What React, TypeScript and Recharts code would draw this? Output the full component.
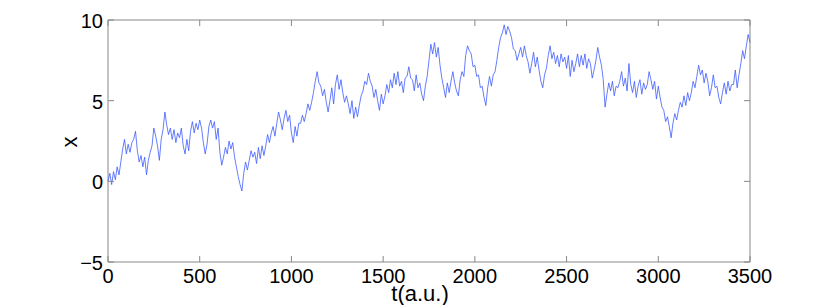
import React from "react";
import {
  LineChart,
  Line,
  XAxis,
  YAxis,
  ReferenceArea,
} from "recharts";

const T_STEP = 10;
const X_VALUES = [
  0.0, 0.5, -0.2, 0.6, 0.1, 0.9, 0.4, 1.2, 2.0, 2.6, 1.7, 2.3, 1.8, 2.4, 2.6, 3.1,
  1.9, 1.2, 1.6, 0.9, 1.5, 0.4, 1.3, 1.8, 2.2, 3.3, 2.8, 2.2, 1.3, 2.6, 3.2, 4.3,
  3.5, 2.9, 3.3, 2.6, 3.2, 2.4, 3.0, 2.7, 3.3, 2.2, 1.7, 2.6, 1.9, 3.1, 3.7, 3.0,
  3.6, 3.2, 3.8, 3.3, 2.4, 1.7, 2.3, 3.4, 3.8, 3.3, 3.7, 2.6, 3.3, 1.8, 1.0, 1.5,
  2.1, 1.7, 2.5, 2.0, 2.4, 1.5, 0.9, 0.3, -0.2, -0.6, 0.5, 1.2, 0.7, 1.3, 1.9, 1.5,
  1.8, 1.1, 2.1, 1.4, 2.2, 1.6, 2.2, 2.9, 2.4, 3.0, 3.4, 2.8, 3.6, 4.3, 3.8, 3.2,
  3.9, 4.4, 3.7, 4.1, 3.0, 2.4, 3.4, 2.8, 3.6, 3.6, 4.1, 3.7, 4.2, 4.8, 4.4, 4.9,
  5.5, 6.2, 6.8, 6.1, 5.9, 5.3, 5.7, 4.9, 4.3, 5.0, 5.8, 4.8, 6.0, 6.6, 5.7, 6.3,
  5.5, 4.9, 5.3, 4.8, 4.2, 5.0, 3.9, 4.6, 4.0, 4.7, 5.3, 5.6, 6.2, 6.0, 6.7, 6.2,
  5.9, 5.2, 5.7, 5.0, 4.4, 5.4, 4.8, 5.3, 6.0, 5.5, 6.3, 5.8, 6.7, 6.0, 6.8, 5.9,
  6.2, 5.5, 6.4, 6.5, 7.1, 6.4, 6.3, 5.6, 6.6, 5.8, 6.1, 5.4, 5.0, 5.9, 6.5, 7.5,
  8.5, 7.9, 8.6, 7.7, 8.3, 7.2, 6.4, 5.8, 5.2, 6.1, 5.5, 6.2, 6.8, 6.1, 5.6, 5.3,
  6.3, 6.8, 6.5, 7.8, 8.4, 8.1, 7.9, 7.1, 7.2, 6.5, 6.6, 5.8, 5.9, 5.2, 4.7, 5.8,
  6.5, 5.9, 6.6, 6.8, 7.5, 8.3, 8.9, 9.2, 9.7, 9.1, 9.6, 9.3, 8.9, 8.2, 8.1, 7.5,
  7.9, 8.3, 7.7, 8.4, 7.8, 7.4, 6.7, 7.3, 8.0, 7.1, 7.7, 6.9, 6.2, 5.8, 6.6, 7.0,
  7.8, 8.4, 7.6, 8.0, 7.3, 7.8, 7.1, 7.9, 7.4, 7.7, 7.0, 7.8, 6.5, 7.5, 6.8, 7.3,
  7.9, 7.1, 7.8, 7.2, 7.9, 7.0, 7.6, 7.3, 6.4, 6.9, 7.5, 8.3, 7.7, 7.2, 6.3, 4.6,
  5.4, 6.1, 5.6, 6.2, 5.3, 5.9, 5.8, 6.2, 6.8, 5.9, 6.4, 5.6, 7.3, 6.0, 5.5, 6.2,
  5.2, 5.9, 6.3, 5.4, 6.1, 5.7, 6.0, 6.8, 6.3, 5.7, 6.2, 5.1, 5.9, 5.2, 4.6, 4.4,
  3.7, 4.0, 3.4, 2.7, 3.6, 4.2, 3.8, 4.4, 4.9, 4.6, 5.3, 4.7, 5.5, 5.0, 5.5, 6.2,
  5.8, 6.5, 7.2, 6.6, 6.9, 6.1, 6.7, 6.2, 5.3, 5.8, 6.6, 5.8, 5.9, 5.2, 4.8, 5.5,
  6.1, 5.4, 6.2, 5.6, 6.0, 6.0, 6.9, 5.8, 6.6, 7.3, 8.1, 7.6, 8.4, 9.1, 8.6,
];

const X_TICKS = [0, 500, 1000, 1500, 2000, 2500, 3000, 3500];
const Y_TICKS = [-5, 0, 5, 10];

const data = X_VALUES.map((x, i) => ({ t: i * T_STEP, x }));

const PLOT_TOP = 20;
const PLOT_BOTTOM = 262;
const PLOT_LEFT = 108;
const PLOT_RIGHT = 750;
const TICK_LEN = 6;
const AXIS_COLOR = "#888888";
const FONT = "'Liberation Sans', Arial, Helvetica, sans-serif";

const fmt = (v: number) => (v < 0 ? "\u2212" + Math.abs(v) : String(v));

function XTick(props: any) {
  const { x, payload } = props;
  return (
    <g>
      <line x1={x} x2={x} y1={PLOT_BOTTOM} y2={PLOT_BOTTOM - TICK_LEN} stroke={AXIS_COLOR} />
      <line x1={x} x2={x} y1={PLOT_TOP} y2={PLOT_TOP + TICK_LEN} stroke={AXIS_COLOR} />
      <text x={x} y={283} textAnchor="middle" fontFamily={FONT} fontSize={20} fill="#000">
        {fmt(payload.value)}
      </text>
    </g>
  );
}

function YTick(props: any) {
  const { y, payload } = props;
  return (
    <g>
      <line x1={PLOT_LEFT} x2={PLOT_LEFT + TICK_LEN} y1={y} y2={y} stroke={AXIS_COLOR} />
      <line x1={PLOT_RIGHT} x2={PLOT_RIGHT - TICK_LEN} y1={y} y2={y} stroke={AXIS_COLOR} />
      <text x={103} y={y + 8} textAnchor="end" fontFamily={FONT} fontSize={20} fill="#000">
        {fmt(payload.value)}
      </text>
    </g>
  );
}

export default function App() {
  return (
    <div style={{ position: "absolute", left: 0, top: 0, background: "#fff" }}>
      <LineChart
        width={830}
        height={305}
        data={data}
        margin={{ top: 20, right: 80, bottom: 0, left: 0 }}
      >
        <XAxis
          dataKey="t"
          type="number"
          domain={[0, 3500]}
          ticks={X_TICKS}
          height={43}
          axisLine={false}
          tickLine={false}
          tick={<XTick />}
          interval={0}
          label={{
            content: () => (
              <text x={420} y={301} textAnchor="middle" fontFamily={FONT} fontSize={22} fill="#000">
                t(a.u.)
              </text>
            ),
          }}
        />
        <YAxis
          type="number"
          domain={[-5, 10]}
          ticks={Y_TICKS}
          width={108}
          axisLine={false}
          tickLine={false}
          tick={<YTick />}
          interval={0}
          label={{
            content: () => (
              <text
                x={69}
                y={142}
                textAnchor="middle"
                dominantBaseline="central"
                transform="rotate(-90, 69, 142)"
                fontFamily={FONT}
                fontSize={22}
                fill="#000"
              >
                x
              </text>
            ),
          }}
        />
        <Line
          type="linear"
          dataKey="x"
          stroke="#3d5cff"
          strokeWidth={0.8}
          dot={false}
          isAnimationActive={false}
        />
        <ReferenceArea
          x1={0}
          x2={3500}
          y1={-5}
          y2={10}
          fill="none"
          stroke={AXIS_COLOR}
          strokeWidth={1}
        />
      </LineChart>
    </div>
  );
}
